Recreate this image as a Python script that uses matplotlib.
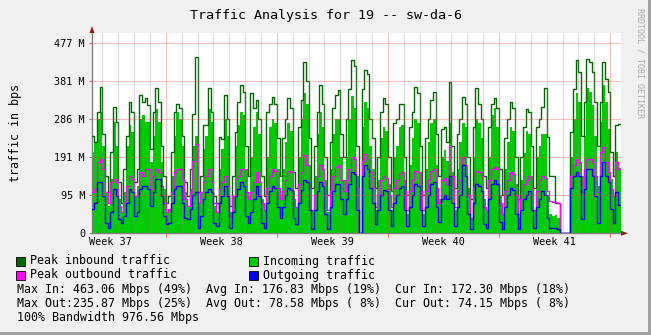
import matplotlib
matplotlib.use("Agg")
import matplotlib.pyplot as plt
from matplotlib.patches import Rectangle, Polygon
import numpy as np

W, H = 651, 335
MONO = "DejaVu Sans Mono"

# 4 hour samples, hours counted from the first midnight on the graph
t_start = -16
t_step = 4

# Mbps (10^6 bit/s), one row per day: 00-04 04-08 08-12 12-16 16-20 20-24
peak_in = [
    257, 240, 319, 385,
    260, 152, 108, 213, 333, 293,
    134, 81, 169, 257, 346, 319,
    134, 169, 365, 346, 355, 337,
    222, 319, 381, 346, 231, 152,
    81, 99, 213, 319, 341, 330,
    257, 134, 99, 169, 315, 463.06,
    108, 152, 284, 284, 381, 319,
    99, 81, 253, 248, 363, 302,
    72, 152, 266, 346, 390, 372,
    231, 152, 368, 330, 350, 300,
    150, 99, 320, 341, 359, 341,
    250, 150, 250, 300, 355, 330,
    160, 120, 280, 350, 451, 400,
    250, 120, 230, 320, 390, 340,
    200, 100, 240, 330, 363, 376,
    260, 200, 300, 380, 456, 440,
    230, 0, 380, 429, 420, 300,
    250, 120, 200, 320, 357, 340,
    200, 110, 290, 300, 341, 341,
    200, 100, 280, 320, 385, 370,
    230, 100, 250, 300, 350, 372,
    260, 150, 275, 280, 240, 399,
    230, 120, 260, 300, 359, 340,
    200, 90, 280, 381, 340, 300,
    150, 120, 280, 340, 355, 330,
    170, 100, 250, 300, 346, 330,
    200, 90, 200, 280, 328, 320,
    230, 120, 280, 300, 333, 381,
    254, 150, 150, 80, 80, 0,
    0, 0, 0, 266, 380, 455,
    425, 257, 346, 458, 450, 425,
    346, 231, 346, 450, 407, 372,
    213, 152, 284, 288,
]
avg_in = [
    213, 240, 302, 319,
    231, 108, 72, 143, 293, 231,
    90, 55, 108, 231, 284, 266,
    99, 125, 302, 310, 293, 293,
    187, 257, 328, 293, 187, 116,
    55, 64, 152, 257, 319, 300,
    231, 108, 72, 116, 231, 257,
    81, 108, 222, 257, 328, 293,
    72, 55, 169, 222, 302, 257,
    55, 99, 231, 284, 319, 310,
    169, 99, 200, 280, 320, 260,
    90, 60, 200, 280, 300, 290,
    170, 100, 170, 240, 290, 270,
    110, 70, 200, 300, 370, 340,
    180, 60, 150, 260, 320, 280,
    140, 55, 170, 260, 300, 300,
    200, 140, 200, 300, 360, 330,
    150, 0, 280, 345, 330, 230,
    170, 60, 140, 250, 280, 270,
    130, 60, 200, 230, 280, 285,
    140, 50, 180, 250, 300, 290,
    160, 50, 170, 240, 290, 300,
    180, 90, 200, 220, 190, 290,
    160, 60, 170, 240, 290, 280,
    120, 40, 200, 300, 290, 250,
    90, 60, 200, 310, 330, 280,
    100, 50, 170, 240, 280, 270,
    130, 40, 140, 210, 270, 260,
    150, 60, 200, 230, 260, 260,
    100, 50, 45, 48, 40, 0,
    0, 0, 0, 200, 300, 370,
    346, 152, 257, 381, 372, 337,
    257, 125, 293, 390, 346, 275,
    143, 99, 213, 172.30,
]
peak_out = [
    108, 116, 187, 196,
    169, 108, 81, 134, 143, 134,
    72, 55, 81, 125, 152, 143,
    99, 108, 160, 152, 169, 169,
    116, 152, 169, 160, 125, 81,
    55, 64, 108, 160, 169, 169,
    143, 90, 72, 108, 190, 235.87,
    81, 108, 134, 152, 169, 134,
    81, 55, 116, 134, 152, 125,
    46, 99, 143, 152, 169, 169,
    108, 90, 108, 134, 160, 134,
    81, 60, 120, 150, 170, 165,
    120, 90, 110, 140, 165, 160,
    90, 70, 130, 160, 205, 180,
    120, 60, 100, 150, 180, 170,
    100, 60, 110, 150, 175, 180,
    140, 110, 140, 170, 200, 195,
    120, 0, 190, 209, 195, 160,
    120, 70, 100, 140, 150, 145,
    100, 70, 120, 140, 155, 160,
    110, 60, 110, 140, 165, 160,
    110, 60, 110, 140, 165, 170,
    120, 80, 140, 145, 130, 230,
    150, 70, 110, 140, 200, 180,
    100, 40, 120, 165, 160, 150,
    70, 60, 140, 170, 175, 170,
    80, 50, 110, 140, 160, 155,
    100, 40, 90, 130, 140, 150,
    120, 60, 110, 140, 150, 145,
    110, 85, 83, 83, 80, 0,
    0, 0, 0, 150, 180, 196,
    187, 108, 169, 196, 196, 187,
    152, 108, 213, 227, 187, 160,
    116, 99, 187, 170,
]
avg_out = [
    64, 81, 134, 134,
    99, 28, 15, 55, 116, 99,
    37, 28, 46, 81, 116, 108,
    46, 55, 116, 125, 125, 116,
    72, 108, 143, 143, 99, 46,
    24, 28, 81, 116, 125, 125,
    81, 41, 37, 64, 100, 108,
    15, 46, 90, 108, 116, 108,
    28, 19, 81, 99, 125, 99,
    15, 55, 99, 116, 134, 125,
    46, 28, 55, 90, 125, 99,
    28, 15, 80, 110, 125, 120,
    70, 40, 70, 100, 120, 115,
    40, 25, 80, 115, 140, 135,
    60, 10, 60, 110, 135, 125,
    50, 12, 70, 110, 130, 130,
    90, 50, 90, 130, 160, 155,
    60, 0, 150, 180, 170, 120,
    80, 25, 60, 100, 115, 110,
    60, 20, 80, 100, 120, 125,
    60, 20, 70, 100, 130, 125,
    60, 20, 70, 100, 130, 135,
    70, 30, 90, 100, 90, 150,
    80, 20, 70, 100, 180, 150,
    50, 10, 80, 130, 125, 110,
    25, 15, 90, 130, 140, 130,
    30, 10, 70, 100, 120, 115,
    50, 10, 60, 90, 100, 110,
    60, 15, 70, 90, 110, 100,
    40, 15, 13, 13, 10, 0,
    0, 0, 0, 120, 150, 160,
    152, 37, 116, 169, 169, 152,
    99, 28, 152, 187, 152, 134,
    64, 28, 108, 74.15,
]

day_lines = list(range(0, 792, 24))
week_bounds = [96, 264, 432, 600, 768]
week_centres = [12, 180, 348, 516, 684]
week_labels = ["Week 37", "Week 38", "Week 39", "Week 40", "Week 41"]
ytick_vals = [0, 100, 200, 300, 400, 500]
ytick_labels = ["0", "95 M", "191 M", "286 M", "381 M", "477 M"]

legend_items = [
    ("Peak inbound traffic", "#006600", 16, 261),
    ("Incoming traffic", "#00CC00", 249, 261),
    ("Peak outbound traffic", "#FF00FF", 16, 275),
    ("Outgoing traffic", "#0000FF", 249, 275),
]
stat_lines = [
    "Max In: 463.06 Mbps (49%)  Avg In: 176.83 Mbps (19%)  Cur In: 172.30 Mbps (18%)",
    "Max Out:235.87 Mbps (25%)  Avg Out: 78.58 Mbps ( 8%)  Cur Out: 74.15 Mbps ( 8%)",
    "100% Bandwidth 976.56 Mbps",
]

fig = plt.figure(figsize=(W / 100, H / 100), dpi=100, facecolor="#F0F0F0")

# graph canvas in pixel terms: x 92..621, y 33..233
ax = fig.add_axes([92 / W, 1 - 233.3 / H, 529 / W, 200.3 / H])
ax.set_facecolor("white")
ax.set_xlim(-15.6, 784.4)
ax.set_ylim(0, 527)

edges = t_start + t_step * np.arange(len(avg_in) + 1)


def ext(v):
    return np.append(v, v[-1])


ax.fill_between(edges, ext(avg_in), step="post", color="#00CC00", lw=0, zorder=2)
ax.step(edges, ext(peak_in), where="post", color="#006600", lw=1, zorder=3)
ax.step(edges, ext(peak_out), where="post", color="#FF00FF", lw=1, zorder=4)
ax.step(edges, ext(avg_out), where="post", color="#0000FF", lw=1, zorder=5)

for d in day_lines:
    if d not in week_bounds:
        ax.axvline(d, color="#8F8F8F", alpha=0.3, lw=0.8, zorder=6)
for d in week_bounds:
    ax.axvline(d, color="#E05050", alpha=0.35, lw=0.8, zorder=6)
for v in ytick_vals[1:]:
    ax.axhline(v, color="#E05050", alpha=0.35, lw=0.8, zorder=6)

for s in ("top", "right"):
    ax.spines[s].set_visible(False)
for s in ("left", "bottom"):
    ax.spines[s].set_color("#808080")
    ax.spines[s].set_linewidth(1)

ax.set_yticks(ytick_vals)
ax.set_yticklabels(ytick_labels, fontfamily=MONO, fontsize=7.3)
ax.set_xticks(week_centres)
ax.set_xticklabels(week_labels, fontfamily=MONO, fontsize=7.3)
ax.tick_params(axis="y", length=2, color="#808080", pad=3)
ax.tick_params(axis="x", length=0, pad=3)
ax.set_xticks(week_bounds, minor=True)
ax.tick_params(axis="x", which="minor", length=3, color="#E05050")

# overlay in pixel coordinates for frame, arrows and legend
ov = fig.add_axes([0, 0, 1, 1])
ov.set_xlim(0, W)
ov.set_ylim(H, 0)
ov.axis("off")
ov.patch.set_alpha(0)

ov.add_patch(Rectangle((W - 3, 0), 3, H, color="#A0A0A0", lw=0))
ov.add_patch(Rectangle((0, H - 3), W, 3, color="#A0A0A0", lw=0))

ov.add_patch(Polygon([(89.5, 33), (94.5, 33), (92, 26)], closed=True,
                     color="#8B1A1A", lw=0))
ov.add_patch(Polygon([(621, 230.8), (621, 235.8), (628, 233.3)], closed=True,
                     color="#8B1A1A", lw=0))

ov.text(325.5, 16, "Traffic Analysis for 19 -- sw-da-6", ha="center",
        va="center", fontfamily=MONO, fontsize=9.6)
ov.text(16, 133, "traffic in bps", rotation=90, ha="center", va="center",
        fontfamily=MONO, fontsize=8.4)
ov.text(640, 8, "RRDTOOL / TOBI OETIKER", rotation=270, ha="center",
        va="top", fontfamily=MONO, fontsize=6, color="#A8A8A8")

for label, col, x, y in legend_items:
    ov.add_patch(Rectangle((x, y - 4.5), 9, 9, facecolor=col,
                           edgecolor="black", lw=0.6))
    ov.text(x + 14, y, label, ha="left", va="center", fontfamily=MONO,
            fontsize=8.4)

for i, line in enumerate(stat_lines):
    ov.text(16.7, 289 + 14 * i, line, ha="left", va="center",
            fontfamily=MONO, fontsize=8.4)

fig.savefig("out.png", dpi=100, facecolor=fig.get_facecolor())
